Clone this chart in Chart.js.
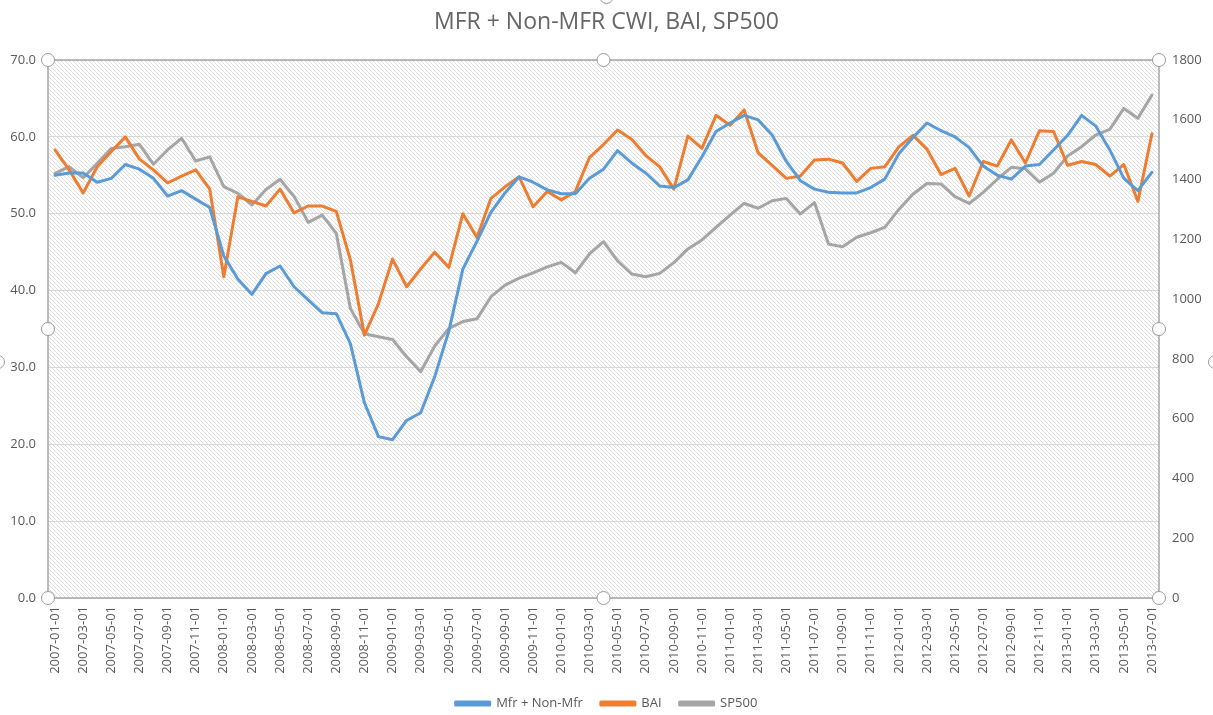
<!DOCTYPE html>
<html>
<head>
<meta charset="utf-8">
<script src="https://cdn.jsdelivr.net/npm/chart.js@4.4.0/dist/chart.umd.min.js"></script>
<style>
  html, body { margin: 0; padding: 0; background: #fff; }
  #wrap { width: 1213px; height: 715px; }
</style>
</head>
<body>
<div id="wrap"><canvas id="cwiChart" width="1213" height="715"></canvas></div>
<script>
// monthly, 2007-01 .. 2013-07
const months = [];
for (let y = 2007; y <= 2013; y++) {
  for (let m = 1; m <= 12; m++) {
    if (y === 2013 && m > 7) break;
    months.push(y + '-' + String(m).padStart(2, '0') + '-01');
  }
}

const mfrNonMfr = [
  55.0, 55.3, 55.3, 54.1, 54.6, 56.4, 55.8, 54.6, 52.3, 53.0, 51.9, 50.8,
  44.5, 41.5, 39.5, 42.2, 43.2, 40.5, 38.8, 37.1, 37.0, 33.1, 25.4, 21.0,
  20.6, 23.1, 24.1, 28.8, 34.7, 42.8, 46.4, 50.2, 52.7, 54.8, 54.1, 53.1,
  52.6, 52.6, 54.6, 55.8, 58.2, 56.6, 55.3, 53.6, 53.4, 54.4, 57.4, 60.7,
  61.8, 62.8, 62.2, 60.2, 56.8, 54.3, 53.2, 52.8, 52.7, 52.7, 53.4, 54.5,
  57.8, 59.9, 61.8, 60.8, 60.0, 58.6, 56.2, 55.0, 54.5, 56.2, 56.4, 58.3,
  60.2, 62.8, 61.4, 58.3, 54.6, 53.0, 55.4
];

const bai = [
  58.3, 55.7, 52.7, 56.1, 58.1, 60.0, 57.1, 55.7, 54.0, 54.9, 55.7, 53.2,
  41.8, 52.2, 51.6, 51.0, 53.2, 50.1, 51.0, 51.0, 50.3, 44.0, 34.2, 38.3,
  44.1, 40.5, 42.8, 45.0, 43.0, 50.0, 46.9, 52.0, 53.5, 54.8, 50.9, 52.9,
  51.8, 52.9, 57.3, 59.0, 60.9, 59.7, 57.6, 56.1, 53.2, 60.1, 58.5, 62.8,
  61.5, 63.5, 57.9, 56.3, 54.6, 54.9, 57.0, 57.1, 56.6, 54.2, 55.9, 56.1,
  58.7, 60.2, 58.4, 55.1, 55.9, 52.3, 56.8, 56.2, 59.6, 56.6, 60.8, 60.7,
  56.3, 56.8, 56.4, 54.9, 56.4, 51.6, 60.4
];

const sp500 = [
  1421, 1443, 1406, 1454, 1504, 1510, 1518, 1451, 1499, 1538, 1462, 1476,
  1376, 1354, 1315, 1367, 1401, 1343, 1257, 1281, 1220, 969, 884, 874,
  865, 807, 757, 843, 902, 925, 934, 1008, 1047, 1070, 1088, 1108,
  1123, 1088, 1151, 1192, 1128, 1084, 1075, 1086, 1122, 1168, 1198, 1240,
  1281, 1320, 1304, 1329, 1337, 1285, 1323, 1184, 1175, 1207, 1222, 1240,
  1300, 1351, 1387, 1385, 1343, 1320, 1357, 1401, 1441, 1436, 1391, 1421,
  1479, 1510, 1549, 1568, 1638, 1605, 1683
];

const leftTicks = [0, 10, 20, 30, 40, 50, 60, 70];
const rightTicks = [0, 200, 400, 600, 800, 1000, 1200, 1400, 1600, 1800];

const txt = '#595959';
const fam = '"Open Sans", "DejaVu Sans", sans-serif';
const padBottom = -5;

// light downward diagonal hatch, like the plot area fill
function hatch() {
  const c = document.createElement('canvas');
  c.width = 4; c.height = 4;
  const g = c.getContext('2d');
  g.fillStyle = '#ffffff';
  g.fillRect(0, 0, 4, 4);
  g.fillStyle = '#dedede';
  for (let i = 0; i < 4; i++) g.fillRect(i, i, 1, 1);
  return c;
}

const plotDecor = {
  id: 'plotDecor',
  beforeDraw(chart) {
    const a = chart.chartArea, ctx = chart.ctx;
    ctx.save();
    ctx.fillStyle = ctx.createPattern(hatch(), 'repeat');
    ctx.fillRect(a.left, a.top, a.right - a.left, a.bottom - a.top);
    ctx.restore();
  },
  afterDraw(chart) {
    const a = chart.chartArea, ctx = chart.ctx;
    ctx.save();
    ctx.strokeStyle = '#a6a6a6';
    ctx.lineWidth = 1.5;
    ctx.strokeRect(a.left, a.top, a.right - a.left, a.bottom - a.top);
    // selection handles
    const mx = (a.left + a.right) / 2, my = (a.top + a.bottom) / 2;
    const pts = [
      [a.left, a.top], [mx, a.top], [a.right, a.top],
      [a.left, my], [a.right, my],
      [a.left, a.bottom], [mx, a.bottom], [a.right, a.bottom],
      [-2, 362], [chart.width + 2, 362], [mx + 3, -3]
    ];
    ctx.lineWidth = 1;
    ctx.strokeStyle = '#9a9a9a';
    ctx.fillStyle = '#ffffff';
    pts.forEach(p => {
      ctx.beginPath();
      ctx.arc(p[0], p[1], 6.5, 0, Math.PI * 2);
      ctx.fill();
      ctx.stroke();
    });
    ctx.restore();
  }
};

const ctx = document.getElementById('cwiChart').getContext('2d');
const myChart = new Chart(ctx, {
  type: 'line',
  data: {
    labels: months,
    datasets: [{
      label: 'Mfr + Non-Mfr',
      data: mfrNonMfr,
      borderColor: '#5B9BD5',
      backgroundColor: '#5B9BD5',
      yAxisID: 'y'
    }, {
      label: 'BAI',
      data: bai,
      borderColor: '#ED7D31',
      backgroundColor: '#ED7D31',
      yAxisID: 'y'
    }, {
      label: 'SP500',
      data: sp500,
      borderColor: '#A5A5A5',
      backgroundColor: '#A5A5A5',
      yAxisID: 'y1'
    }]
  },
  options: {
    responsive: false,
    animation: false,
    devicePixelRatio: 1,
    layout: { padding: { top: 0, left: 0, right: 0, bottom: padBottom } },
    elements: {
      line: { borderWidth: 3, tension: 0, borderCapStyle: 'round', borderJoinStyle: 'round' },
      point: { radius: 0 }
    },
    plugins: {
      title: {
        display: true,
        text: 'MFR + Non-MFR CWI, BAI, SP500',
        color: '#666666',
        font: { family: fam, size: 23, weight: 'normal' },
        padding: { top: 9, bottom: 23.4 }
      },
      legend: {
        position: 'bottom',
        labels: {
          color: txt,
          font: { family: fam, size: 13 },
          boxWidth: 34,
          boxHeight: 3,
          padding: 18
        }
      },
      tooltip: { enabled: false }
    },
    scales: {
      x: {
        offset: true,
        grid: { display: false, drawTicks: false },
        border: { display: false },
        ticks: {
          autoSkip: false,
          minRotation: 90,
          maxRotation: 90,
          padding: 8,
          color: txt,
          font: { family: fam, size: 13 },
          callback: function (v, i) { return i % 2 === 0 ? months[i] : ''; }
        },
        afterFit: function (s) {
          const lg = s.chart.legend ? s.chart.legend.height : 0;
          s.height = s.chart.height - padBottom - 598 - lg;
        }
      },
      y: {
        position: 'left',
        min: leftTicks[0],
        max: leftTicks[leftTicks.length - 1],
        grid: { color: '#d9d9d9', lineWidth: 1, drawTicks: false },
        border: { display: false },
        afterBuildTicks: function (s) { s.ticks = leftTicks.map(v => ({ value: v })); },
        ticks: {
          padding: 12,
          color: txt,
          font: { family: fam, size: 13 },
          callback: v => v.toFixed(1)
        },
        afterFit: function (s) { s.width = 48; }
      },
      y1: {
        position: 'right',
        min: rightTicks[0],
        max: rightTicks[rightTicks.length - 1],
        grid: { display: false, drawTicks: false },
        border: { display: false },
        afterBuildTicks: function (s) { s.ticks = rightTicks.map(v => ({ value: v })); },
        ticks: {
          padding: 13,
          color: txt,
          font: { family: fam, size: 13 },
          callback: v => String(v)
        },
        afterFit: function (s) { s.width = 54; }
      }
    }
  },
  plugins: [plotDecor]
});
</script>
</body>
</html>
